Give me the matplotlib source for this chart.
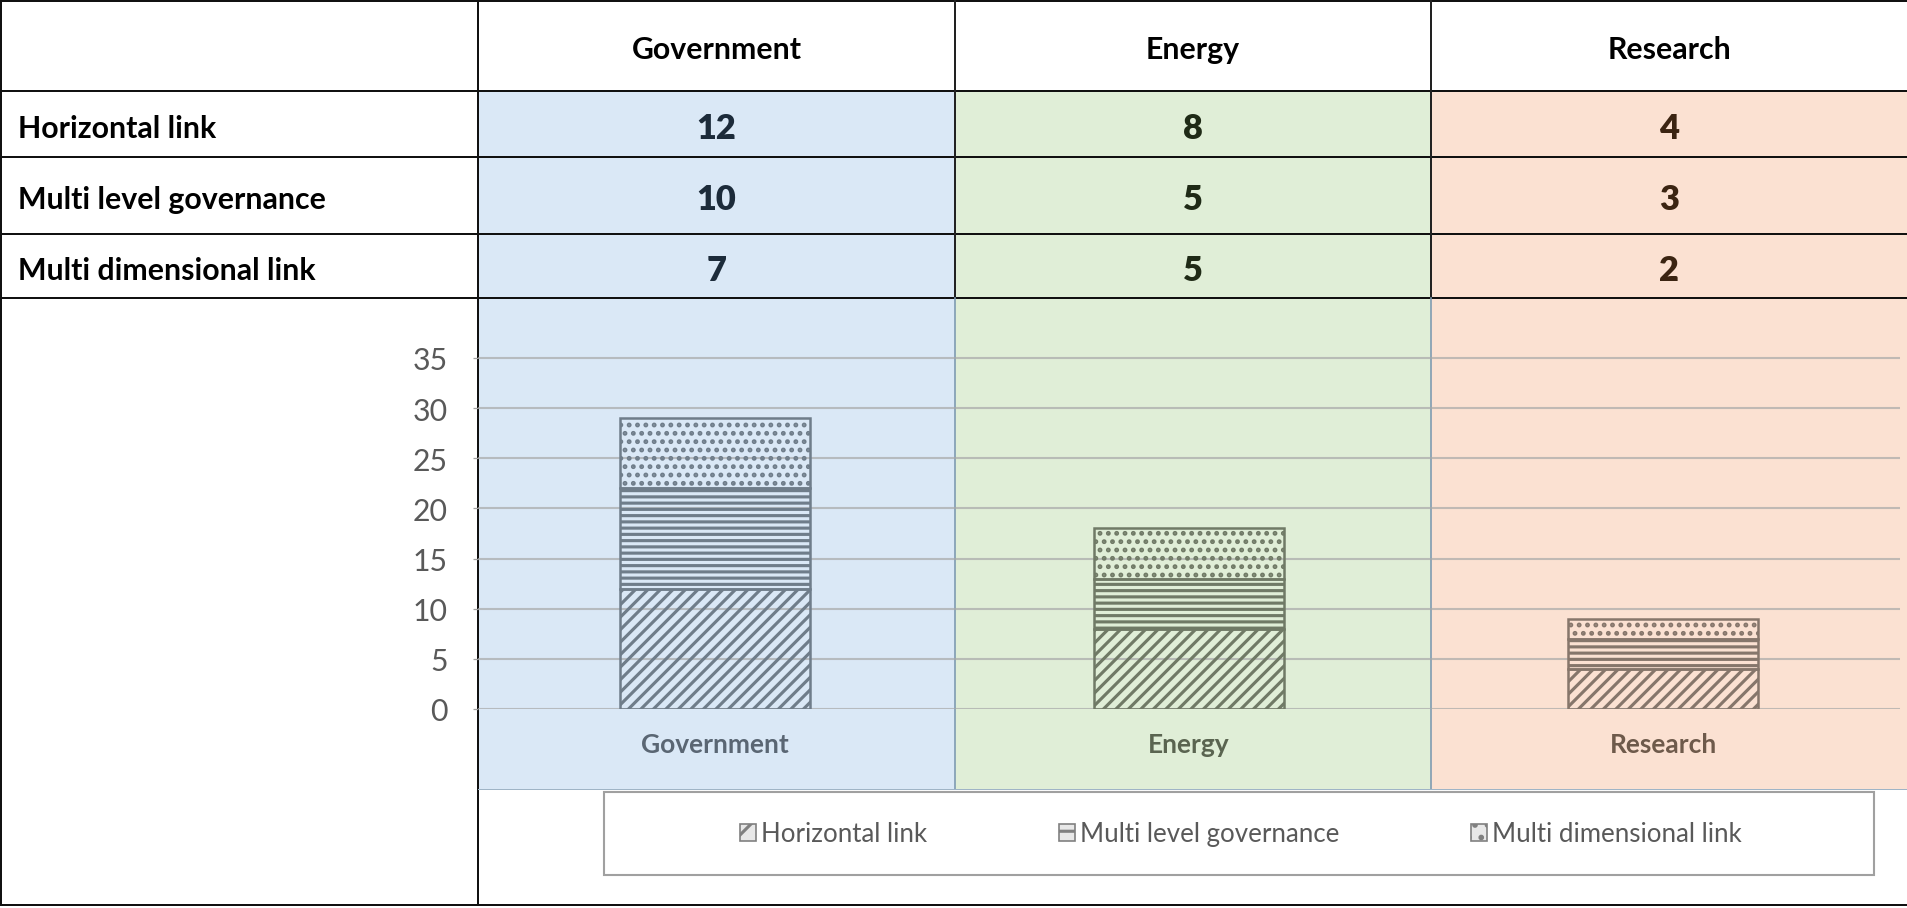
import matplotlib.pyplot as plt
from matplotlib.patches import Rectangle

# datos de la tabla / gráfico
categories = ["Government", "Energy", "Research"]
series_names = ["Horizontal link", "Multi level governance", "Multi dimensional link"]
horizontal_link = [12, 8, 4]
multi_level = [10, 5, 3]
multi_dimensional = [7, 5, 2]
y_ticks = [0, 5, 10, 15, 20, 25, 30, 35]

W, H, DPI = 1907, 909, 150
FONT = "Lato"
plt.rcParams["font.family"] = [FONT, "DejaVu Sans"]
plt.rcParams["hatch.linewidth"] = 1.5

# geometría de la tabla en píxeles
col_x = [478, 955, 1431, 1907]
row_y = [2, 92, 158, 235, 299, 790]
col_bg = ["#dae8f6", "#e0eed7", "#fbe1d2"]
num_colors = ["#1c2b3a", "#1f2a16", "#3b2412"]
cat_colors = ["#5a6673", "#5a6450", "#6e5a4b"]
hatch_colors = ["#6f7d8a", "#707a66", "#86766b"]

fig = plt.figure(figsize=(W / DPI, H / DPI), dpi=DPI)
base = fig.add_axes([0, 0, 1, 1])
base.set_xlim(0, W)
base.set_ylim(H, 0)
base.axis("off")

# fondos de color por columna
for i in range(3):
    base.add_patch(Rectangle((col_x[i], row_y[1]), col_x[i + 1] - col_x[i],
                             row_y[5] - row_y[1], facecolor=col_bg[i],
                             edgecolor="none", zorder=0))

lw = 2 * 72 / DPI
for y in row_y[:5]:
    base.plot([0, W], [y, y], color="#111111", lw=lw, zorder=3)
base.plot([0, W], [906, 906], color="#111111", lw=lw, zorder=3)
base.plot([1, 1], [2, 906], color="#111111", lw=lw, zorder=3)
base.plot([col_x[0], col_x[0]], [2, 906], color="#111111", lw=lw, zorder=3)
for x in col_x[1:3]:
    base.plot([x, x], [2, row_y[4]], color="#222222", lw=lw, zorder=3)
    base.plot([x, x], [row_y[4], row_y[5]], color="#7b98b0", lw=lw * 0.8, zorder=3)
base.plot([col_x[0], W], [row_y[5], row_y[5]], color="#9fb4c6", lw=lw * 0.5, zorder=3)

# cabecera y celdas
values = [horizontal_link, multi_level, multi_dimensional]
for i, cat in enumerate(categories):
    cx = (col_x[i] + col_x[i + 1]) / 2
    base.text(cx, (row_y[0] + row_y[1]) / 2 + 3, cat, ha="center", va="center",
              fontsize=14.5, fontweight="bold", color="black")
    for r in range(3):
        cy = (row_y[r + 1] + row_y[r + 2]) / 2 + 4
        base.text(cx, cy, str(values[r][i]), ha="center", va="center",
                  fontsize=16.5, fontweight="heavy", color=num_colors[i])
for r, name in enumerate(series_names):
    cy = (row_y[r + 1] + row_y[r + 2]) / 2 + 4
    base.text(18, cy, name, ha="left", va="center", fontsize=14.5,
              fontweight="bold", color="black")

# gráfico de barras apiladas
y0_px, px_per_unit, top_val = 710, 10.03, 35.5
y1_px = y0_px - top_val * px_per_unit
ax = fig.add_axes([478 / W, (H - y0_px) / H, (1900 - 478) / W, (y0_px - y1_px) / H])
ax.patch.set_alpha(0)
ax.set_xlim(-0.5, 2.5)
ax.set_ylim(0, top_val)
for s in ax.spines.values():
    s.set_visible(False)
ax.set_yticks(y_ticks)
ax.yaxis.grid(True, color="#a8a8a8", lw=1.0, alpha=0.7)
ax.set_axisbelow(True)
ax.tick_params(axis="y", length=2.5, width=0.6, color="#a0a0a0", pad=12,
               labelsize=14.5, labelcolor="#595959")
ax.tick_params(axis="x", length=0, pad=11)

x = range(len(categories))
hatches = ["////", "----", "..."]
bottoms = [0, 0, 0]
for k, vals in enumerate(values):
    ax.bar(x, vals, 0.4, bottom=bottoms, facecolor="none",
           edgecolor=hatch_colors, hatch=hatches[k], lw=1.2,
           label=series_names[k])
    bottoms = [b + v for b, v in zip(bottoms, vals)]

ax.set_xticks(list(x))
ax.set_xticklabels(categories, fontsize=12.7, fontweight="bold")
for lab, c in zip(ax.get_xticklabels(), cat_colors):
    lab.set_color(c)

# leyenda con marco propio
base.add_patch(Rectangle((604, 793), 1270, 83, facecolor="white",
                         edgecolor="#a0a0a0", lw=1.0, zorder=4))
leg_handles = [Rectangle((0, 0), 1, 1, facecolor="#e8e8e8", edgecolor="#808080",
                         hatch=h[:2], lw=0.8) for h in hatches]
leg = fig.legend(leg_handles, series_names, loc="center",
                 bbox_to_anchor=(1241, 835), bbox_transform=base.transData,
                 ncol=3, frameon=False, fontsize=12.4, handlelength=0.62,
                 handleheight=0.62, handletextpad=0.2, columnspacing=5.1)
for t in leg.get_texts():
    t.set_color("#595959")
leg.set_zorder(5)

fig.savefig("out.png", dpi=DPI)
